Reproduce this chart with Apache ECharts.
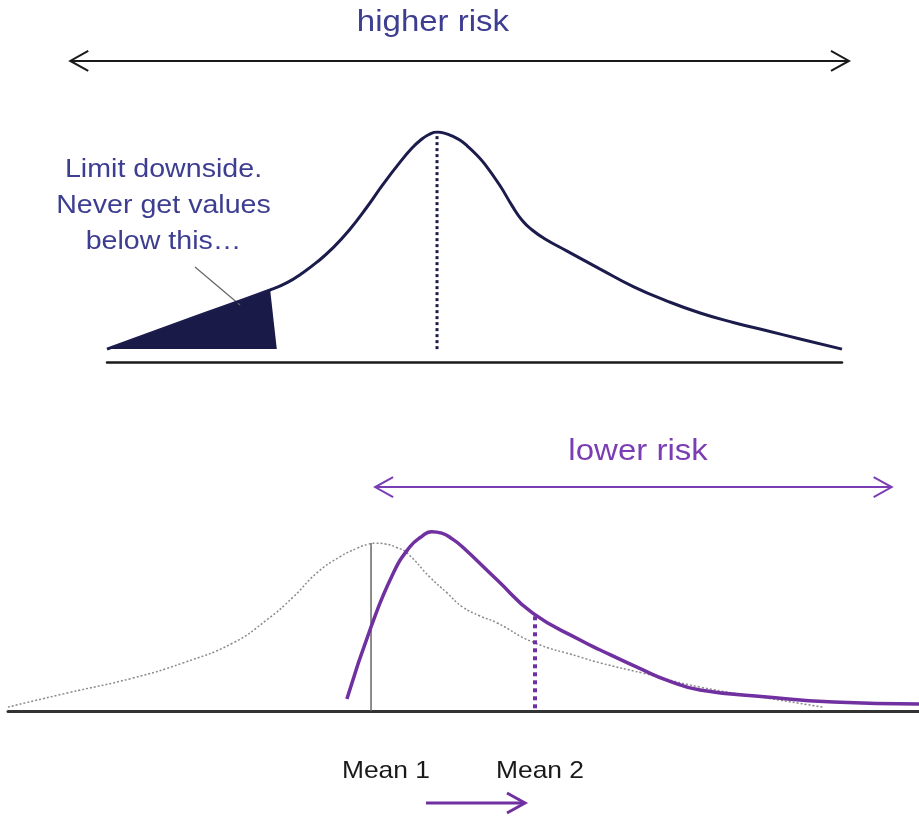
<!DOCTYPE html>
<html><head><meta charset="utf-8">
<script src="https://cdn.jsdelivr.net/npm/echarts@6/dist/echarts.min.js"></script>
<style>html,body{margin:0;padding:0;background:#fff}#c{width:919px;height:818px}</style>
</head><body><div id="c"></div>
<script>
// ---- Top panel: outcome (0–100) vs density (% of peak) ----
const topCurve = [[0,5.6],[11,18.4],[22.2,31.3],[24.5,34.5],[26.5,38.5],[28.6,43.5],[30.7,49.5],[33,57.5],[35.4,67.5],[37.5,77],[39.9,87],[41.5,93],[42.6,96.3],[43.8,98.9],[44.9,100],[46,99.4],[47,98.2],[48,96.5],[49,94],[50.2,90.3],[51.4,86],[53.5,76.5],[55.1,68],[56.5,61.5],[57.8,57.5],[59.6,53.5],[62.6,48.2],[67.1,40.4],[71.6,32.8],[76.2,26.5],[80.7,21.3],[85.2,17.2],[89.8,13.6],[94.3,10],[100,5.6]];
const topTail = [[0,5.6],[22.2,31.3],[23.1,5.6]];
const topMean = [44.9, 5.6, 100];
const topRange = [-5.0, 100.95, 130.9];
// ---- Bottom panel ----
const bottomOld = [[0,2.2],[6.5,10],[13.7,18.3],[19.2,26.7],[24.7,37.8],[28.4,50.6],[31.3,63.3],[33.9,76.7],[36.4,85.6],[38.4,90.6],[39.5,92.6],[40.4,93.2],[41.4,92.8],[42.6,91],[43.8,87.8],[46.3,74.4],[48.2,65.6],[49.9,57.8],[51.8,52.8],[53.7,48.9],[57.6,38.3],[62.8,30],[65,26.7],[69.7,21],[75.96,13.3],[83.3,7.2],[89.4,2.2]];
const bottomNew = [[37.2,6.7],[39.85,46.7],[42.3,76.7],[44.1,91.1],[45.3,96.5],[46.5,99.6],[47.6,98.8],[48.8,95.5],[49.9,91.1],[53.7,72.8],[57.6,54.4],[62.8,39.4],[65,33.9],[69.7,22.8],[72.3,17.2],[75.96,11.7],[83.3,7.8],[90.6,5],[100,3.9]];
const means = [39.85, 57.85];
const meanTops = [93.3, 54.4];
const meanLabels = ['Mean 1', 'Mean 2'];
const meanLabelY = -33.3;
const shiftArrow = [45.88, 56.75, -51.1];
const bottomRange = [40.3, 97.0, 124.4];
// ---- Labels ----
const topLabel = 'higher risk';
const topLabelPos = [44.35, 147.4];
const noteLabel = 'Limit downside.\nNever get values\nbelow this…';
const notePos = [7.69, 67.8];
const noteLeader = [[11.97, 41.3], [18.1, 24.8]];
const bottomLabel = 'lower risk';
const bottomLabelPos = [69.16, 144.0];

const NAVY = '#1c1c4c', BLUE_TXT = '#3d3d91', PURPLE = '#7030a0';
const FONT = "'Liberation Sans', Arial, sans-serif";

function chevrons(x1, x2, y, color, w) {
  const L = 18, H = 10;
  return [
    {type:'line', shape:{x1:x1, y1:y, x2:x2, y2:y}, style:{stroke:color, lineWidth:w}},
    {type:'polyline', shape:{points:[[x1+L,y-H],[x1,y],[x1+L,y+H]]}, style:{stroke:color, lineWidth:w, fill:null}},
    {type:'polyline', shape:{points:[[x2-L,y-H],[x2,y],[x2-L,y+H]]}, style:{stroke:color, lineWidth:w, fill:null}}
  ];
}
function oneArrow(x1, x2, y, color, w) {
  const L = 18, H = 10;
  return [
    {type:'line', shape:{x1:x1, y1:y, x2:x2, y2:y}, style:{stroke:color, lineWidth:w}},
    {type:'polyline', shape:{points:[[x2-L,y-H],[x2,y],[x2-L,y+H]]}, style:{stroke:color, lineWidth:w, fill:null}}
  ];
}
function txt(p, text, color, size, sx, lh) {
  return {type:'text', x:p[0], y:p[1], scaleX:sx, style:{text:text, fill:color, fontSize:size, fontFamily:FONT, align:'center', verticalAlign:'middle', lineHeight:lh||size*1.2}};
}

const chart = echarts.init(document.getElementById('c'), null, {renderer:'canvas'});
const hiddenY = {type:'value', min:0, max:100, show:false};
chart.setOption({
  animation:false,
  backgroundColor:'#fff',
  grid:[
    {left:107, top:132, width:735, height:230},
    {left:8, top:531, width:911, height:180}
  ],
  xAxis:[
    {type:'value', gridIndex:0, min:0, max:100, axisLine:{show:true, lineStyle:{color:'#1a1a1a', width:2.5}}, axisTick:{show:false}, axisLabel:{show:false}, splitLine:{show:false}},
    {type:'value', gridIndex:1, min:0, max:100, axisLine:{show:true, lineStyle:{color:'#333', width:3}}, axisTick:{show:false}, axisLabel:{show:false}, splitLine:{show:false}}
  ],
  yAxis:[Object.assign({gridIndex:0}, hiddenY), Object.assign({gridIndex:1}, hiddenY)],
  series:[
    {
      type:'custom', xAxisIndex:0, yAxisIndex:0, clip:false, silent:true, data:[[0,0]], z:2,
      renderItem:function(params, api){
        const poly = topTail.map(function(d){return api.coord(d);});
        const a = api.coord([topRange[0], topRange[2]]), b = api.coord([topRange[1], topRange[2]]);
        const l1 = api.coord(noteLeader[0]), l2 = api.coord(noteLeader[1]);
        const m1 = api.coord([topMean[0], topMean[1]]), m2 = api.coord([topMean[0], topMean[2]]);
        return {type:'group', children:[
          {type:'polygon', shape:{points:poly}, style:{fill:'#1a1a48'}},
          {type:'line', shape:{x1:m1[0], y1:m1[1], x2:m2[0], y2:m2[1]}, style:{stroke:NAVY, lineWidth:3, lineDash:[3,3]}},
          {type:'line', shape:{x1:l1[0], y1:l1[1], x2:l2[0], y2:l2[1]}, style:{stroke:'#666', lineWidth:1.2}},
          txt(api.coord(topLabelPos), topLabel, BLUE_TXT, 30, 1.1),
          txt(api.coord(notePos), noteLabel, BLUE_TXT, 26, 1.1, 36)
        ].concat(chevrons(a[0], b[0], a[1], '#1a1a1a', 2))};
      }
    },
    {type:'line', xAxisIndex:0, yAxisIndex:0, data:topCurve, smooth:0.5, symbol:'none', z:3, lineStyle:{color:NAVY, width:3}},
    {type:'line', xAxisIndex:1, yAxisIndex:1, data:bottomOld, smooth:0.5, symbol:'none', z:2, lineStyle:{color:'#8a8a8a', width:1.5, type:[2,2]}},
    {type:'line', xAxisIndex:1, yAxisIndex:1, data:bottomNew, smooth:0.5, symbol:'none', z:4, lineStyle:{color:PURPLE, width:3.5}},
    {
      type:'custom', xAxisIndex:1, yAxisIndex:1, clip:false, silent:true, data:[[0,0]], z:3,
      renderItem:function(params, api){
        const g0 = api.coord([means[0], 0]), g1 = api.coord([means[0], meanTops[0]]);
        const p0 = api.coord([means[1], 1.5]), p1 = api.coord([means[1], meanTops[1]]);
        const a = api.coord([bottomRange[0], bottomRange[2]]), b = api.coord([bottomRange[1], bottomRange[2]]);
        const s1 = api.coord([shiftArrow[0], shiftArrow[2]]), s2 = api.coord([shiftArrow[1], shiftArrow[2]]);
        return {type:'group', children:[
          {type:'line', shape:{x1:g0[0], y1:g0[1], x2:g1[0], y2:g1[1]}, style:{stroke:'#666', lineWidth:1.5}},
          {type:'line', shape:{x1:p0[0], y1:p0[1], x2:p1[0], y2:p1[1]}, style:{stroke:PURPLE, lineWidth:4, lineDash:[4,4]}},
          txt(api.coord(bottomLabelPos), bottomLabel, '#7a3db4', 30, 1.1),
          txt(api.coord([means[0]+1.64, meanLabelY]), meanLabels[0], '#1a1a1a', 24, 1.1),
          txt(api.coord([means[1]+0.55, meanLabelY]), meanLabels[1], '#1a1a1a', 24, 1.1)
        ].concat(chevrons(a[0], b[0], a[1], '#7a3db4', 2)).concat(oneArrow(s1[0], s2[0], s1[1], PURPLE, 3))};
      }
    }
  ]
});
</script></body></html>
